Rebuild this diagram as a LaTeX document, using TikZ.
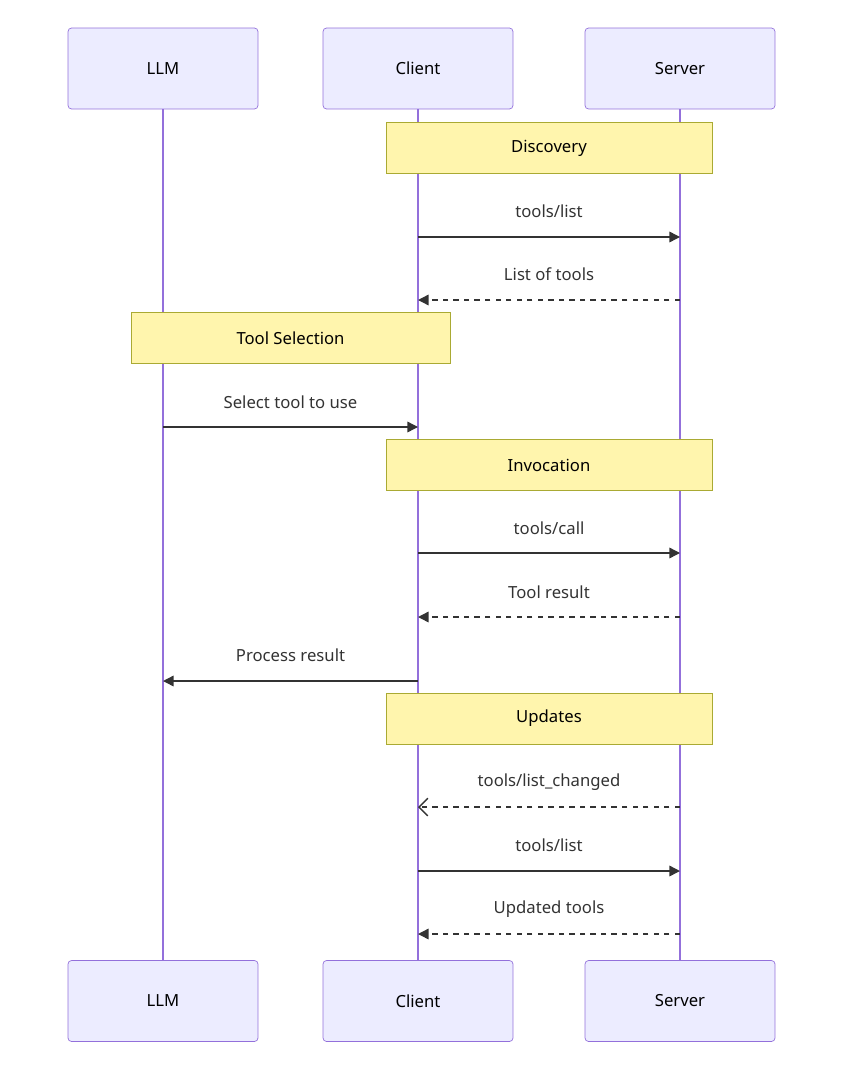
\documentclass[tikz,border=0pt]{standalone}
\usepackage{fontspec}
\setmainfont{Noto Sans}
\usetikzlibrary{arrows.meta}
\definecolor{actfill}{HTML}{ECECFF}
\definecolor{actline}{HTML}{9370DB}
\definecolor{notefill}{HTML}{FFF5AD}
\definecolor{noteline}{HTML}{AAAA33}
\definecolor{txt}{HTML}{333333}
\tikzset{
  actor/.style={draw=actline, fill=actfill, rounded corners=2pt, minimum width=3.8cm, minimum height=1.62cm, font=\fontsize{9.5}{11}\selectfont, text=black},
  note/.style={draw=noteline, fill=notefill, minimum height=1.02cm, font=\fontsize{9.5}{11}\selectfont, text=black, inner sep=0pt},
  msg/.style={draw=txt, thick, -{Triangle[length=6pt,width=6pt]}},
  reply/.style={msg, dashed},
  async/.style={draw=txt, thick, dashed, -{Straight Barb[length=5pt,width=10pt]}},
  lbl/.style={font=\fontsize{9.5}{11}\selectfont, text=txt},
}
\begin{document}
\begin{tikzpicture}[x=0.02cm, y=-0.02cm]
    \useasboundingbox (0,0) rectangle (850,1091);

    % Actors
    \node[actor] (llm) at (163,68.5) {LLM};
    \node[actor] (client) at (418,68.5) {Client};
    \node[actor] (server) at (680,68.5) {Server};
    \node[actor] (llmB) at (163,1001) {LLM};
    \node[actor] (clientB) at (418,1001) {Client};
    \node[actor] (serverB) at (680,1001) {Server};

    % Lifelines
    \draw[actline, thick] (llm) -- (llmB);
    \draw[actline, thick] (client) -- (clientB);
    \draw[actline, thick] (server) -- (serverB);

    % Notes
    \node[note, minimum width=6.52cm] (discovery) at (549,148) {Discovery};
    \node[note, minimum width=6.38cm] (selection) at (290.5,338) {Tool Selection};
    \node[note, minimum width=6.52cm] (invocation) at (549,465) {Invocation};
    \node[note, minimum width=6.52cm] (updates) at (549,718.5) {Updates};

    % Messages
    \draw[msg] (client |- 0,237) -- (server |- 0,237);
    \node[lbl] (m1) at (549,211) {tools/list};
    \draw[reply] (server |- 0,300) -- (client |- 0,300);
    \node[lbl] (m2) at (549,274) {List of tools};
    \draw[msg] (llm |- 0,427) -- (client |- 0,427);
    \node[lbl] (m3) at (290.5,402) {Select tool to use};
    \draw[msg] (client |- 0,553) -- (server |- 0,553);
    \node[lbl] (m4) at (549,528) {tools/call};
    \draw[reply] (server |- 0,617) -- (client |- 0,617);
    \node[lbl] (m5) at (549,592) {Tool result};
    \draw[msg] (client |- 0,681) -- (llm |- 0,681);
    \node[lbl] (m6) at (290.5,655) {Process result};
    \draw[async] (server |- 0,807) -- (client |- 0,807);
    \node[lbl] (m7) at (549,782) {tools/list\_changed};
    \draw[msg] (client |- 0,871) -- (server |- 0,871);
    \node[lbl] (m8) at (549,845) {tools/list};
    \draw[reply] (server |- 0,934) -- (client |- 0,934);
    \node[lbl] (m9) at (549,909) {Updated tools};
\end{tikzpicture}
\end{document}
